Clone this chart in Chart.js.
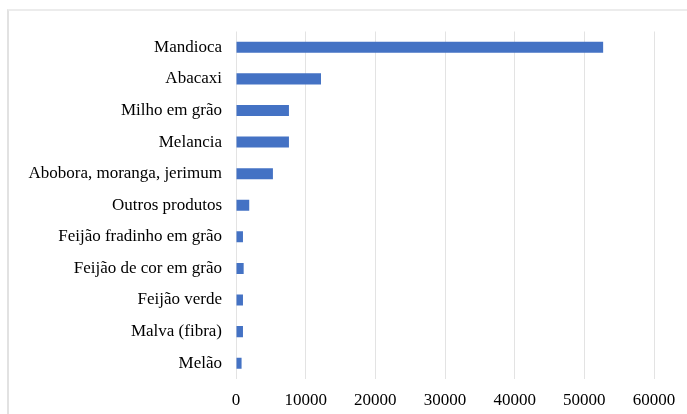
<!DOCTYPE html>
<html>
<head>
<meta charset="utf-8">
<script src="https://cdn.jsdelivr.net/npm/chart.js@4"></script>
<style>
  html, body { margin: 0; padding: 0; background: #fff; }
  #wrap { position: relative; width: 687px; height: 414px; overflow: hidden; }
  #frame {
    position: absolute; left: 7px; top: 9px; width: 700px; height: 420px;
    border-left: 2px solid #e2e2e2; border-top: 2px solid #ececec;
    box-sizing: border-box; pointer-events: none;
  }
  canvas { position: absolute; left: 0; top: 0; }
</style>
</head>
<body>
<div id="wrap">
  <div id="frame"></div>
  <canvas id="chart" width="687" height="414"></canvas>
</div>
<script>
// produtos e quantidades
const produtos = [
  'Mandioca',
  'Abacaxi',
  'Milho em grão',
  'Melancia',
  'Abobora, moranga, jerimum',
  'Outros produtos',
  'Feijão fradinho em grão',
  'Feijão de cor em grão',
  'Feijão verde',
  'Malva (fibra)',
  'Melão'
];
const quantidades = [52700, 12200, 7600, 7600, 5300, 1900, 1000, 1100, 1000, 1000, 800];
const eixoMax = 60000;
const eixoPasso = 10000;

const fonte = { family: '"Liberation Serif", "Times New Roman", serif', size: 17 };

const ctx = document.getElementById('chart').getContext('2d');
new Chart(ctx, {
  type: 'bar',
  data: {
    labels: produtos,
    datasets: [{
      data: quantidades,
      backgroundColor: '#4472c4',
      borderWidth: 0,
      categoryPercentage: 1,
      barPercentage: 0.35
    }]
  },
  options: {
    indexAxis: 'y',
    responsive: false,
    animation: false,
    layout: { padding: { left: 0, right: 33, top: 31.5, bottom: 0 } },
    plugins: {
      legend: { display: false },
      tooltip: { enabled: false }
    },
    scales: {
      x: {
        min: 0,
        max: eixoMax,
        ticks: {
          stepSize: eixoPasso, color: '#000', font: fonte, padding: 11, maxRotation: 0,
          callback: (v) => String(v)   // sem separador de milhar
        },
        grid: { color: '#e3e3e3', lineWidth: 1, drawTicks: false },
        border: { display: false },
        afterFit: (scale) => { scale.height = 35; }
      },
      y: {
        ticks: { color: '#000', font: fonte, padding: 14 },
        grid: { display: false, drawTicks: false },
        border: { display: false },
        afterFit: (scale) => { scale.width = 236; }
      }
    }
  }
});
</script>
</body>
</html>
